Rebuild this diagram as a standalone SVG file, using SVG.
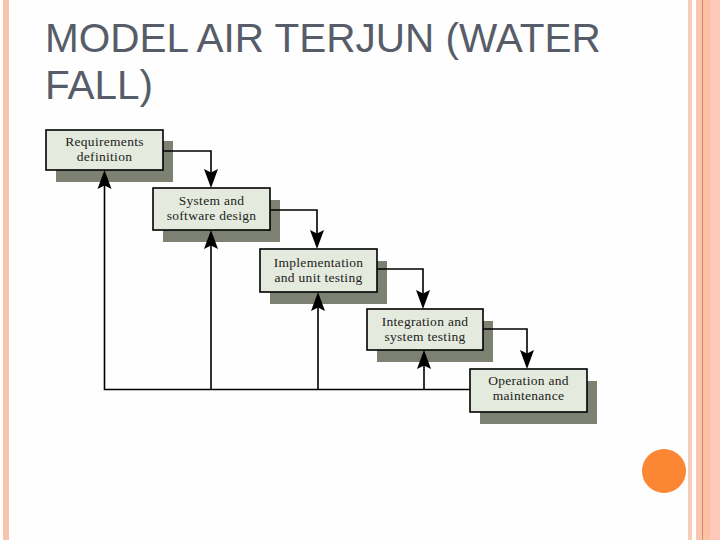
<svg xmlns="http://www.w3.org/2000/svg" width="720" height="540" viewBox="0 0 720 540">
  <defs>
    <path id="ahDown" d="M0,0 L-7,-19 L0,-15.5 L7,-19 Z" fill="#000"/>
    <path id="ahUp" d="M0,0 L-7,19 L0,15.5 L7,19 Z" fill="#000"/>
    <style>
      .title { font-family: "Liberation Sans", Arial, sans-serif; font-size: 40.5px; fill: #575d68; }
      .box { fill: #e4eadd; stroke: #000; stroke-width: 1.6; }
      .shadow { fill: #7c8172; }
      .lbl { font-family: "Liberation Serif", "Times New Roman", serif; font-size: 13.5px; fill: #222; text-anchor: middle; letter-spacing: 0.3px; }
      .conn { fill: none; stroke: #000; stroke-width: 1.6; }
    </style>
  </defs>
  <rect width="720" height="540" fill="#fefefe"/>
  <!-- borders -->
  <rect x="3" y="0" width="6" height="540" fill="#f7c4ae"/>
  <rect x="688" y="0" width="4" height="540" fill="#f8ccb9"/>
  <rect x="696" y="0" width="6" height="540" fill="#fbc6b0"/>
  <rect x="702" y="0" width="1.5" height="540" fill="#d98a60"/>
  <rect x="703.5" y="0" width="6.5" height="540" fill="#fdc1a6"/>
  <rect x="710" y="0" width="10" height="540" fill="#fec9ba"/>
  <circle cx="664" cy="471" r="22" fill="#fb8735"/>

  <text class="title" x="45" y="52">MODEL AIR TERJUN (WATER</text>
  <text class="title" x="45" y="99">FALL)</text>

  <g id="requirements">
    <rect class="shadow" x="56" y="141" width="117" height="41"/>
    <rect class="box" x="46" y="130" width="117" height="40"/>
    <text class="lbl" x="104.5" y="146">Requirements</text>
    <text class="lbl" x="104.5" y="161">definition</text>
  </g>
  <g id="system-design">
    <rect class="shadow" x="163" y="200" width="117" height="42"/>
    <rect class="box" x="153" y="188" width="117" height="42"/>
    <text class="lbl" x="211.5" y="205">System and</text>
    <text class="lbl" x="211.5" y="220">software design</text>
  </g>
  <g id="implementation">
    <rect class="shadow" x="270" y="261" width="117" height="43"/>
    <rect class="box" x="260" y="249" width="117" height="43"/>
    <text class="lbl" x="318.5" y="267">Implementation</text>
    <text class="lbl" x="318.5" y="282">and unit testing</text>
  </g>
  <g id="integration">
    <rect class="shadow" x="377" y="321" width="116" height="41"/>
    <rect class="box" x="367" y="309" width="116" height="41"/>
    <text class="lbl" x="425" y="326">Integration and</text>
    <text class="lbl" x="425" y="341">system testing</text>
  </g>
  <g id="operation">
    <rect class="shadow" x="480" y="381" width="117" height="43"/>
    <rect class="box" x="470" y="369" width="117" height="43"/>
    <text class="lbl" x="528.5" y="385">Operation and</text>
    <text class="lbl" x="528.5" y="400">maintenance</text>
  </g>

  <g id="connectors">
    <path class="conn" d="M163,151 H211 V180"/>
    <use href="#ahDown" x="211" y="188"/>
    <path class="conn" d="M270,210 H317 V241"/>
    <use href="#ahDown" x="317" y="249"/>
    <path class="conn" d="M377,269 H423 V301"/>
    <use href="#ahDown" x="423" y="309"/>
    <path class="conn" d="M483,329 H527 V361"/>
    <use href="#ahDown" x="527" y="369"/>
    <path class="conn" d="M470,389.5 H104.5 V178"/>
    <use href="#ahUp" x="104.5" y="170"/>
    <path class="conn" d="M211,389.5 V238"/>
    <use href="#ahUp" x="211" y="230"/>
    <path class="conn" d="M318,389.5 V300"/>
    <use href="#ahUp" x="318" y="292"/>
    <path class="conn" d="M424,389.5 V358"/>
    <use href="#ahUp" x="424" y="350"/>
  </g>
</svg>
